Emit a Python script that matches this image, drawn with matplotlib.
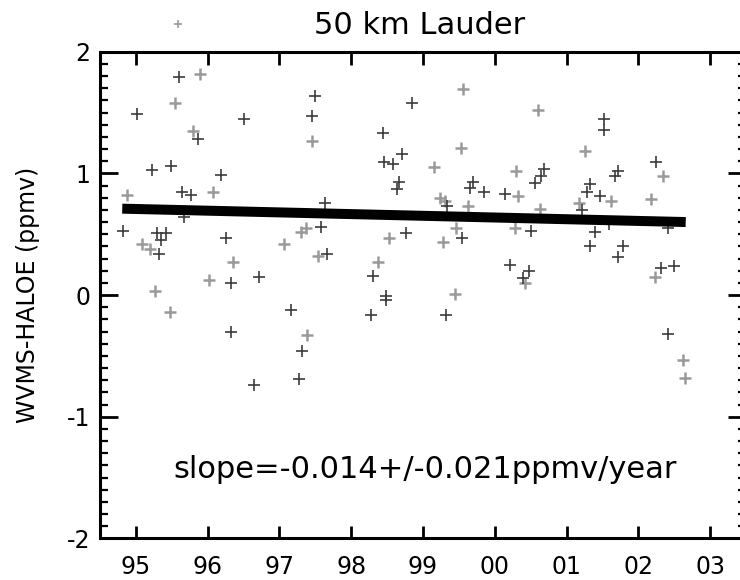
import numpy as np
import matplotlib
matplotlib.use('Agg')
import matplotlib.pyplot as plt
from matplotlib.ticker import MultipleLocator

# ============================================================================
# DATA - values
# ============================================================================
# darker "+" symbols (year, WVMS-HALOE in ppmv)
dark_x = [95.60, 95.01, 96.50, 95.87, 97.49, 97.46, 95.22, 95.49, 96.19, 95.64,
          95.77, 94.82, 95.30, 95.42, 95.35, 95.32, 96.26, 96.71, 96.32, 95.67,
          97.16, 96.32, 97.32, 97.27, 96.65,
          98.84, 98.44, 98.71, 98.45, 98.58, 98.67, 98.64, 99.70, 99.66, 99.85,
          100.14, 99.34, 97.63, 97.58, 98.77, 99.54, 97.66, 98.31, 100.21, 100.40,
          100.47, 98.49, 98.28, 98.49, 99.32,
          101.52, 101.52, 100.69, 100.65, 100.56, 101.71, 101.67, 102.25, 101.32, 101.28,
          101.46, 101.21, 100.51, 101.40, 101.59, 102.42, 101.32, 101.79, 101.71, 102.31,
          102.50, 102.42]
dark_y = [1.79, 1.49, 1.45, 1.28, 1.64, 1.47, 1.03, 1.06, 0.99, 0.85,
          0.82, 0.53, 0.51, 0.51, 0.45, 0.34, 0.47, 0.15, 0.10, 0.64,
          -0.12, -0.30, -0.46, -0.69, -0.74,
          1.58, 1.33, 1.16, 1.09, 1.08, 0.93, 0.87, 0.93, 0.88, 0.85,
          0.83, 0.73, 0.76, 0.56, 0.51, 0.47, 0.34, 0.16, 0.25, 0.14,
          0.20, -0.01, -0.16, -0.04, -0.16,
          1.45, 1.36, 1.04, 0.98, 0.92, 1.02, 0.98, 1.09, 0.91, 0.85,
          0.81, 0.70, 0.53, 0.52, 0.58, 0.55, 0.40, 0.40, 0.31, 0.22,
          0.24, -0.32]

# lighter grey "+" symbols
light_x = [95.90, 95.54, 95.79, 97.45, 94.88, 96.07, 95.09, 95.19, 96.35, 97.07,
           97.30, 97.37, 96.02, 95.27, 97.54, 95.47, 97.39,
           99.56, 99.53, 99.15, 100.29, 100.33, 99.23, 99.30, 99.63, 98.52,
           99.46, 99.28, 100.28, 98.37, 100.42, 99.44,
           100.60, 101.26, 102.35, 101.62, 102.17, 101.18, 100.63, 102.23,
           102.62, 102.65]
light_y = [1.82, 1.58, 1.35, 1.27, 0.82, 0.85, 0.42, 0.38, 0.27, 0.42,
           0.52, 0.55, 0.12, 0.03, 0.32, -0.14, -0.33,
           1.69, 1.21, 1.05, 1.02, 0.81, 0.80, 0.77, 0.73, 0.47,
           0.55, 0.44, 0.55, 0.27, 0.10, 0.01,
           1.52, 1.18, 0.98, 0.77, 0.79, 0.76, 0.71, 0.15,
           -0.53, -0.68]

# linear trend line end points
trend_x = [94.81, 102.66]
trend_y = [0.71, 0.60]

year_ticks = [95, 96, 97, 98, 99, 100, 101, 102, 103]
year_labels = ['95', '96', '97', '98', '99', '00', '01', '02', '03']
value_ticks = [-2, -1, 0, 1, 2]

title = '50 km Lauder'
ylabel = 'WVMS-HALOE (ppmv)'
slope_text = 'slope=-0.014+/-0.021ppmv/year'
output_file = 'out.png'

# ============================================================================

plt.rcParams['axes.unicode_minus'] = False  # plain hyphen minus as in the original

fig = plt.figure(figsize=(7.4, 5.8), dpi=100)
# right edge of the frame lies just past the picture, as in the reference
ax = fig.add_axes([100 / 740, 41.6 / 580, 646 / 740, 486.7 / 580])

ax.plot(light_x, light_y, linestyle='none', marker='+', markersize=9,
        markeredgewidth=1.8, color='#9a9a9a')
ax.plot(dark_x, dark_y, linestyle='none', marker='+', markersize=9,
        markeredgewidth=1.2, color='#3c3c3c')
ax.plot(trend_x, trend_y, color='black', linewidth=7.2, solid_capstyle='butt')

ax.set_xlim(94.5, 103.5)
ax.set_ylim(-2, 2)
ax.set_xticks(year_ticks)
ax.set_xticklabels(year_labels)
ax.set_yticks(value_ticks)
ax.yaxis.set_minor_locator(MultipleLocator(0.1))

ax.tick_params(axis='both', which='both', direction='in', top=True, right=True)
ax.tick_params(axis='x', which='major', length=9, width=2.0, labelsize=17, pad=12)
ax.tick_params(axis='y', which='major', length=13, width=2.0, labelsize=17, pad=7)
ax.tick_params(axis='y', which='minor', length=6, width=1.6)
for s in ax.spines.values():
    s.set_linewidth(2.2)

ax.set_ylabel(ylabel, fontsize=17)
ax.yaxis.set_label_coords(-0.093, 0.5)

ax.text(95.52, -1.50, slope_text, fontsize=22, ha='left', va='baseline')

fig.text(420 / 740, 1 - 25 / 580, title, fontsize=22, ha='center', va='center')
# small symbol key left of the title
ax.plot([178 / 740], [1 - 24 / 580], transform=fig.transFigure, clip_on=False,
        marker='+', markersize=6, markeredgewidth=1.2, color='#9a9a9a',
        linestyle='none')

plt.savefig(output_file, dpi=100)
plt.close()
